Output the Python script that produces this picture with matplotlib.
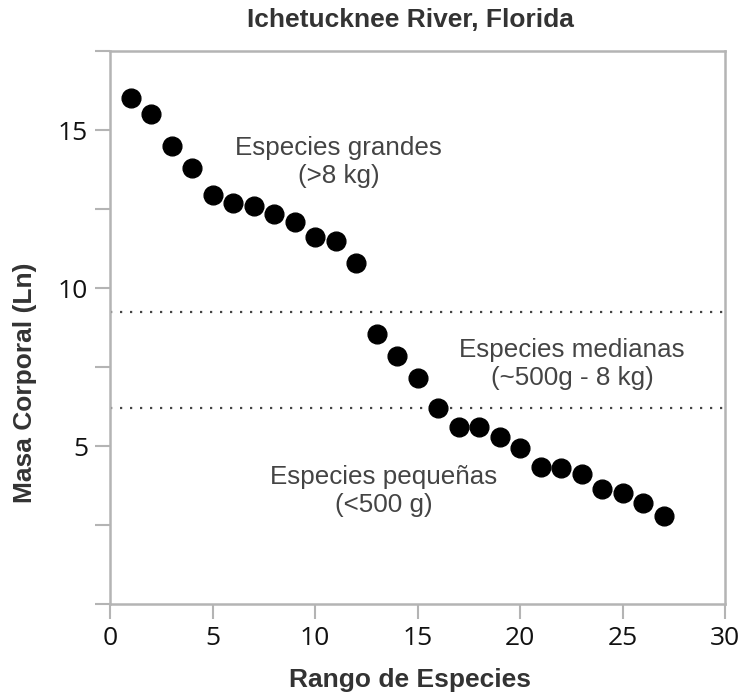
import matplotlib
matplotlib.use("Agg")
import matplotlib.pyplot as plt
from matplotlib.ticker import FixedLocator, NullFormatter

# species rank vs ln(body mass)
rank = list(range(1, 28))
ln_mass = [16.0, 15.5, 14.5, 13.8, 12.95, 12.7, 12.6, 12.35, 12.1, 11.6, 11.5, 10.8,
           8.55, 7.85, 7.15, 6.2, 5.6, 5.6, 5.3, 4.95, 4.35, 4.3, 4.1, 3.65, 3.5, 3.2, 2.8]

# size class cut-offs (ln grams)
cut_large = 9.25
cut_small = 6.2

labels = ["Especies grandes\n(>8 kg)",
          "Especies medianas\n(~500g - 8 kg)",
          "Especies pequeñas\n(<500 g)"]
label_pos = [(11.15, 14.0), (22.55, 7.6), (13.35, 3.58)]

xticks = [0, 5, 10, 15, 20, 25, 30]
yticks = [5, 10, 15]
yticks_minor = [0, 2.5, 7.5, 12.5, 17.5]

spine_col = "#b4b4b4"
text_col = "#333333"

fig = plt.figure(figsize=(7.44, 6.98), dpi=100)
ax = fig.add_axes([110 / 744, 1 - 604 / 698, 615 / 744, 553 / 698])

ax.axhline(cut_large, color="#444444", ls=(0, (1, 3.5)), lw=1.6, zorder=1)
ax.axhline(cut_small, color="#444444", ls=(0, (1, 3.5)), lw=1.6, zorder=1)

ax.plot(rank, ln_mass, "o", color="black", markersize=13.5, zorder=3)

for txt, (x, y) in zip(labels, label_pos):
    ax.text(x, y, txt, ha="center", va="center", fontsize=18.7, color="#444444",
            family="Liberation Sans", linespacing=1.2)

ax.set_xlim(0, 30)
ax.set_ylim(0, 17.5)
ax.xaxis.set_major_locator(FixedLocator(xticks))
ax.yaxis.set_major_locator(FixedLocator(yticks))
ax.yaxis.set_minor_locator(FixedLocator(yticks_minor))
ax.yaxis.set_minor_formatter(NullFormatter())

for s in ax.spines.values():
    s.set_color(spine_col)
    s.set_linewidth(1.8)

ax.tick_params(axis="both", which="both", direction="out", length=10.8, width=1.5,
               color=spine_col, labelsize=19, labelcolor="#111111", pad=5)
for lab in ax.get_xticklabels() + ax.get_yticklabels():
    lab.set_family("Open Sans")

ax.set_xlabel("Rango de Especies", fontsize=19, fontweight="bold", color=text_col,
              family="Liberation Sans", va="center")
ax.xaxis.set_label_coords(0.488, -0.1375)
ax.set_ylabel("Masa Corporal (Ln)", fontsize=19, fontweight="bold", color=text_col,
              family="Liberation Sans", va="center")
ax.yaxis.set_label_coords(-0.138, 0.40)

fig.text(410 / 744, 1 - 20 / 698, "Ichetucknee River, Florida", ha="center", va="center",
         fontsize=19, fontweight="bold", color=text_col, family="Liberation Sans")

fig.savefig("out.png", dpi=100)
